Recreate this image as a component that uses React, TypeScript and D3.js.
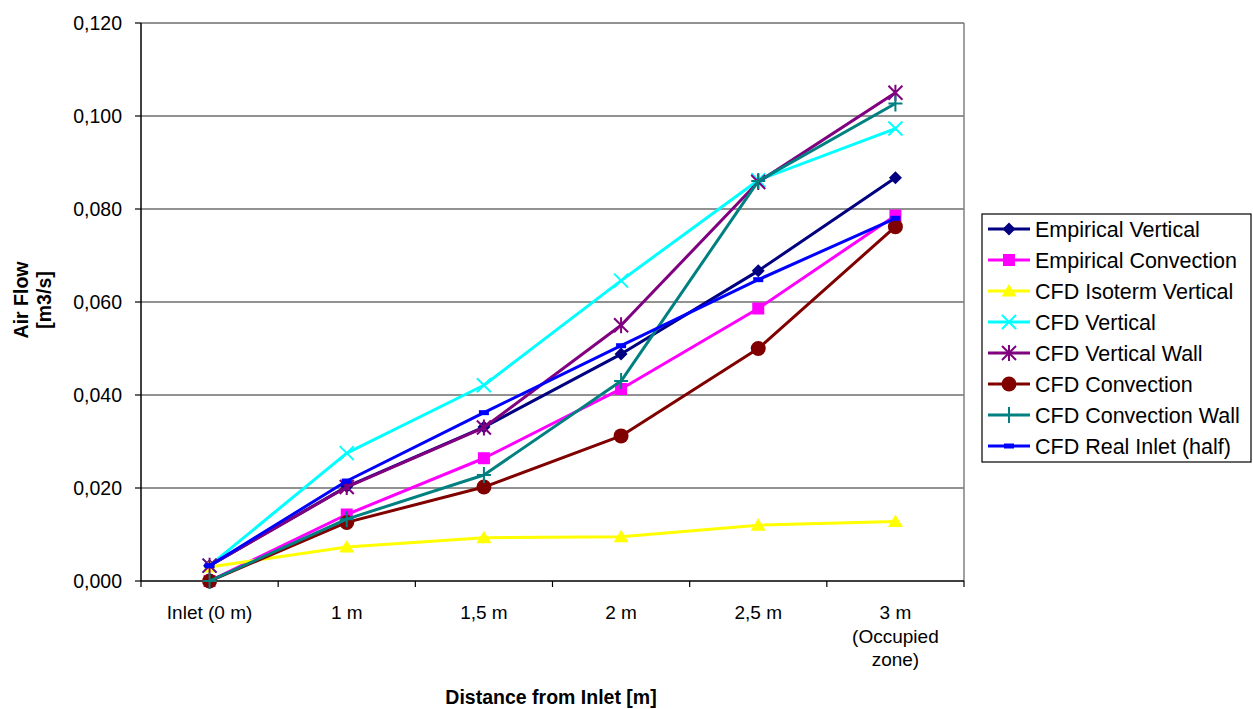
import React from "react";
import * as d3 from "d3";

const categories = ["Inlet (0 m)", "1 m", "1,5 m", "2 m", "2,5 m", "3 m\n(Occupied\nzone)"];
const yTicks = [0, 0.02, 0.04, 0.06, 0.08, 0.1, 0.12];

const empiricalVertical = [0.0033, 0.0203, 0.0331, 0.0488, 0.0667, 0.0867];
const empiricalConvection = [0.0, 0.0143, 0.0264, 0.0413, 0.0586, 0.0786];
const cfdIsotermVertical = [0.003, 0.0073, 0.0093, 0.0095, 0.012, 0.0128];
const cfdVertical = [0.0033, 0.0275, 0.0421, 0.0646, 0.0862, 0.0973];
const cfdVerticalWall = [0.0033, 0.0202, 0.033, 0.055, 0.0858, 0.105];
const cfdConvection = [0.0, 0.0126, 0.0202, 0.0312, 0.05, 0.0762];
const cfdConvectionWall = [0.0, 0.0133, 0.0228, 0.043, 0.086, 0.1027];
const cfdRealInlet = [0.0033, 0.0215, 0.0362, 0.0506, 0.0648, 0.078];

type Series = { name: string; color: string; marker: string; values: number[] };

const series: Series[] = [
  { name: "Empirical Vertical", color: "#000080", marker: "diamond", values: empiricalVertical },
  { name: "Empirical Convection", color: "#FF00FF", marker: "square", values: empiricalConvection },
  { name: "CFD Isoterm Vertical", color: "#FFFF00", marker: "triangle", values: cfdIsotermVertical },
  { name: "CFD Vertical", color: "#00FFFF", marker: "x", values: cfdVertical },
  { name: "CFD Vertical Wall", color: "#800080", marker: "asterisk", values: cfdVerticalWall },
  { name: "CFD Convection", color: "#800000", marker: "circle", values: cfdConvection },
  { name: "CFD Convection Wall", color: "#008080", marker: "plus", values: cfdConvectionWall },
  { name: "CFD Real Inlet (half)", color: "#0000FF", marker: "dash", values: cfdRealInlet },
];

const plotLeft = 141;
const plotRight = 964;
const plotTop = 23;
const plotBottom = 581;

function Marker({ type, x, y, color }: { type: string; x: number; y: number; color: string }) {
  switch (type) {
    case "diamond":
      return <path d={`M${x},${y - 6.5}L${x + 6.5},${y}L${x},${y + 6.5}L${x - 6.5},${y}Z`} fill={color} />;
    case "square":
      return <rect x={x - 6} y={y - 6} width={12} height={12} fill={color} />;
    case "triangle":
      return <path d={`M${x},${y - 7}L${x + 7.5},${y + 5.5}L${x - 7.5},${y + 5.5}Z`} fill={color} />;
    case "x":
      return (
        <path d={`M${x - 7},${y - 7}L${x + 7},${y + 7}M${x - 7},${y + 7}L${x + 7},${y - 7}`} stroke={color} strokeWidth={2} fill="none" />
      );
    case "asterisk":
      return (
        <path
          d={`M${x - 7},${y - 7}L${x + 7},${y + 7}M${x - 7},${y + 7}L${x + 7},${y - 7}M${x},${y - 8}L${x},${y + 8}`}
          stroke={color}
          strokeWidth={2}
          fill="none"
        />
      );
    case "circle":
      return <circle cx={x} cy={y} r={7.5} fill={color} />;
    case "plus":
      return <path d={`M${x - 7},${y}L${x + 7},${y}M${x},${y - 8}L${x},${y + 8}`} stroke={color} strokeWidth={2} fill="none" />;
    case "dash":
      return <path d={`M${x - 5},${y}L${x + 5},${y}`} stroke={color} strokeWidth={5} fill="none" />;
    default:
      return null;
  }
}

export default function App() {
  const x = d3.scaleBand<string>().domain(categories).range([plotLeft, plotRight]).paddingInner(0).paddingOuter(0);
  const y = d3.scaleLinear().domain([0, 0.12]).range([plotBottom, plotTop]);
  const fmt = (v: number) => d3.format(".3f")(v).replace(".", ",");
  const cx = (i: number) => (x(categories[i]) as number) + x.bandwidth() / 2;
  const line = d3
    .line<number>()
    .x((_, i) => cx(i))
    .y((v) => y(v));

  const font = "Liberation Sans, Arial, Helvetica, sans-serif";
  const boundaries = d3.range(categories.length + 1).map((i) => plotLeft + i * x.bandwidth());

  const legendX = 982;
  const legendY = 214;
  const legendW = 269;
  const legendH = 248;
  const rowH = 31;

  return (
    <svg width={1253} height={709} style={{ position: "absolute", left: 0, top: 0, background: "#fff" }} fontFamily={font}>
      <rect x={0} y={0} width={1253} height={709} fill="#fff" />
      {yTicks.map((t) =>
        t === 0 ? null : <line key={t} x1={plotLeft} x2={plotRight} y1={y(t)} y2={y(t)} stroke="#6e6e6e" strokeWidth={1.3} />
      )}
      <line x1={plotRight} x2={plotRight} y1={plotTop} y2={plotBottom} stroke="#808080" strokeWidth={1.5} />
      <line x1={plotLeft} x2={plotLeft} y1={plotTop} y2={plotBottom} stroke="#000" strokeWidth={1.5} />
      <line x1={plotLeft} x2={plotRight} y1={plotBottom} y2={plotBottom} stroke="#000" strokeWidth={1.5} />
      {yTicks.map((t) => (
        <g key={"yt" + t}>
          <line x1={plotLeft - 6} x2={plotLeft} y1={y(t)} y2={y(t)} stroke="#000" strokeWidth={1.2} />
          <text x={122} y={y(t)} dy="0.35em" textAnchor="end" fontSize={19.5} fill="#000">
            {fmt(t)}
          </text>
        </g>
      ))}
      {boundaries.map((bx, i) => (
        <line key={"xt" + i} x1={bx} x2={bx} y1={plotBottom} y2={plotBottom + 6} stroke="#000" strokeWidth={1.2} />
      ))}
      {categories.map((c, i) => (
        <text key={"xl" + i} x={cx(i)} y={619} textAnchor="middle" fontSize={19} fill="#000">
          {c.split("\n").map((ln, j) => (
            <tspan key={j} x={cx(i)} dy={j === 0 ? 0 : 23.5}>
              {ln}
            </tspan>
          ))}
        </text>
      ))}
      <text x={551} y={704} textAnchor="middle" fontSize={19.5} fontWeight="bold" fill="#000">
        Distance from Inlet [m]
      </text>
      <g transform={`translate(0, 300) rotate(-90)`}>
        <text x={0} y={28} textAnchor="middle" fontSize={19.5} fontWeight="bold" fill="#000">
          Air Flow
        </text>
        <text x={0} y={51} textAnchor="middle" fontSize={19.5} fontWeight="bold" fill="#000">
          [m3/s]
        </text>
      </g>
      {series.map((s) => (
        <g key={s.name}>
          <path d={line(s.values) || ""} fill="none" stroke={s.color} strokeWidth={3} strokeLinejoin="round" />
          {s.values.map((v, i) => (
            <Marker key={i} type={s.marker} x={cx(i)} y={y(v)} color={s.color} />
          ))}
        </g>
      ))}
      <rect x={legendX} y={legendY} width={legendW} height={legendH} fill="#fff" stroke="#000" strokeWidth={1.2} />
      {series.map((s, i) => {
        const ry = 229 + i * rowH;
        return (
          <g key={"lg" + i}>
            <line x1={988} x2={1030} y1={ry} y2={ry} stroke={s.color} strokeWidth={3} />
            <Marker type={s.marker} x={1009} y={ry} color={s.color} />
            <text x={1035} y={ry} dy="0.35em" fontSize={21.5} fill="#000">
              {s.name}
            </text>
          </g>
        );
      })}
    </svg>
  );
}
